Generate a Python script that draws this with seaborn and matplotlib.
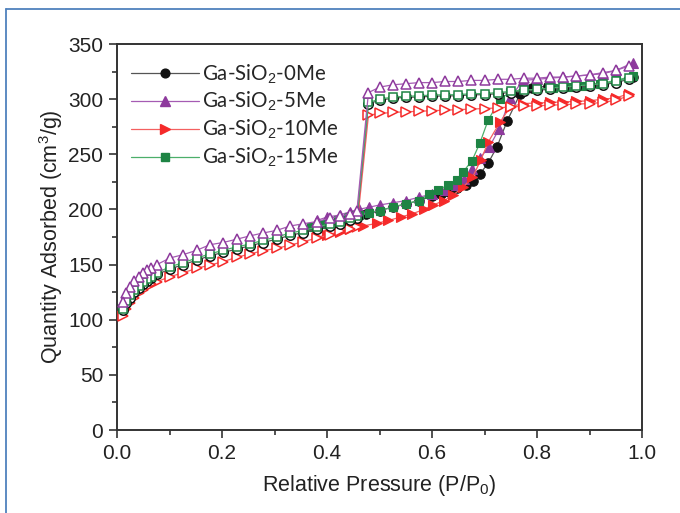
import numpy as np
import pandas as pd
import matplotlib
matplotlib.use("Agg")
import matplotlib.pyplot as plt
from matplotlib.lines import Line2D
import seaborn as sns

# ---------------- data ----------------
samples = ["Ga-SiO$_2$-0Me", "Ga-SiO$_2$-5Me", "Ga-SiO$_2$-10Me", "Ga-SiO$_2$-15Me"]

# desorption branch (open markers), high pressure -> low pressure
des_p_up = [0.975, 0.95, 0.925, 0.9, 0.875, 0.85, 0.825, 0.8, 0.775, 0.75, 0.725,
            0.7, 0.675, 0.65, 0.625, 0.6, 0.575, 0.55, 0.526, 0.501, 0.479]
des_p_low = [0.457, 0.444, 0.425, 0.405, 0.38, 0.355, 0.33, 0.304, 0.278, 0.253,
             0.228, 0.202, 0.177, 0.152, 0.126, 0.101, 0.076, 0.065, 0.057, 0.049,
             0.041, 0.033, 0.025, 0.018, 0.011]

des_0me_up = [318, 315, 313, 312, 311, 310, 309, 308, 307, 306, 305, 304, 304, 303,
              303, 302.5, 302, 301.5, 301, 299, 296]
des_0me_low = [192, 190, 187, 185, 182, 179, 176.6, 173, 170, 167, 164, 161, 158,
               154, 150, 146, 141, 138, 135, 132, 129, 125, 120, 115, 109]

des_5me_up = [330, 326, 324, 322, 321, 320, 320, 319, 319, 318, 318, 317, 317, 316,
              316, 315, 315, 314, 313, 311, 306]
des_5me_low = [199, 196, 194, 192, 189, 187, 185, 181, 178.6, 176, 173, 170, 168,
               163, 159, 156, 150, 147, 145, 142, 139, 135, 130, 124, 116]

des_10me_up = [303, 299, 297, 296, 295.5, 295, 294.5, 294, 293.5, 293, 292, 291.5,
               291, 290.5, 290, 289.5, 289, 288.5, 288, 287, 285.5]
des_10me_low = [184, 182, 180, 177, 174, 170.7, 167.7, 164.7, 162.6, 159.6, 156.6,
                152.6, 149.6, 146.6, 142.6, 139, 134.5, 132, 130, 127, 124, 120,
                115, 110, 103]

des_15me_up = [319, 316, 314, 313, 312, 311, 310, 309, 308, 307, 306, 305, 305, 304,
               304, 303.7, 303, 302.5, 302, 300, 297]
des_15me_low = [194, 192, 189, 186.8, 184, 181, 178.6, 175, 172, 168.6, 166, 163,
                159.6, 156, 151.7, 148, 142.6, 139, 137, 134, 131, 127, 122, 117, 110]

# adsorption branch (filled markers)
ads_0me_p = [0.45, 0.475, 0.50, 0.525, 0.55, 0.575, 0.60, 0.618, 0.632, 0.647, 0.665,
             0.678, 0.691, 0.707, 0.724, 0.743, 0.768, 0.79, 0.821, 0.85, 0.875, 0.90,
             0.925, 0.95, 0.983]
ads_0me_q = [192, 196, 199, 202, 205, 208, 212, 214, 216, 219, 222, 226, 232, 242,
             257, 280, 305, 310, 312, 312, 313, 313, 314, 316, 320]

ads_5me_p = [0.38, 0.40, 0.425, 0.444, 0.46, 0.48, 0.50, 0.525, 0.55, 0.575, 0.60,
             0.625, 0.645, 0.66, 0.676, 0.691, 0.709, 0.728, 0.749, 0.773, 0.80, 0.825,
             0.85, 0.875, 0.90, 0.925, 0.95, 0.983]
ads_5me_q = [190, 193, 195, 198, 200, 202, 204, 206, 208, 211, 214, 218, 222, 228,
             236.6, 246.6, 256.6, 273, 301, 317, 318, 319, 320, 321, 322, 323, 326, 333]

ads_10me_p = [0.38, 0.40, 0.425, 0.444, 0.469, 0.495, 0.517, 0.54, 0.562, 0.585, 0.602,
              0.623, 0.64, 0.659, 0.677, 0.693, 0.707, 0.73, 0.749, 0.773, 0.80, 0.825,
              0.85, 0.875, 0.90, 0.925, 0.95, 0.975]
ads_10me_q = [174.7, 176.8, 179.8, 182, 185, 187.4, 190, 193, 196, 200, 204, 208, 213,
              220, 229, 244.8, 261, 279.5, 293, 296, 296.5, 297, 297.5, 298, 298.5, 300,
              301, 305]

ads_15me_p = [0.37, 0.395, 0.42, 0.44, 0.46, 0.48, 0.50, 0.525, 0.55, 0.575, 0.595,
              0.612, 0.631, 0.647, 0.659, 0.676, 0.691, 0.707, 0.73, 0.749, 0.775, 0.80,
              0.83, 0.86, 0.89, 0.92, 0.95, 0.983]
ads_15me_q = [184, 187, 190, 192, 195, 197, 199, 202, 205, 208, 214, 218, 222, 227,
              234, 244, 260, 281, 300, 306.7, 308, 309, 310, 311, 312, 314, 317, 321]

x_ticks = [0.0, 0.2, 0.4, 0.6, 0.8, 1.0]
y_ticks = [0, 50, 100, 150, 200, 250, 300, 350]

# ---------------- styling ----------------
colors = {samples[0]: "#111111", samples[1]: "#8E3A9D",
          samples[2]: "#F52A2A", samples[3]: "#1E8444"}
line_colors = {samples[0]: "#555555", samples[1]: "#A55BB3",
               samples[2]: "#F46060", samples[3]: "#4CAF6A"}
markers = {samples[0]: "o", samples[1]: "^", samples[2]: ">", samples[3]: "s"}
msize = {samples[0]: 6.8, samples[1]: 7.2, samples[2]: 7.2, samples[3]: 6.3}

ads = {samples[0]: (ads_0me_p, ads_0me_q), samples[1]: (ads_5me_p, ads_5me_q),
       samples[2]: (ads_10me_p, ads_10me_q), samples[3]: (ads_15me_p, ads_15me_q)}
des = {samples[0]: (des_0me_up, des_0me_low), samples[1]: (des_5me_up, des_5me_low),
       samples[2]: (des_10me_up, des_10me_low), samples[3]: (des_15me_up, des_15me_low)}

sns.set_style("ticks")
plt.rcParams["font.family"] = ["Liberation Sans", "DejaVu Sans"]
plt.rcParams["mathtext.fontset"] = "custom"
plt.rcParams["mathtext.rm"] = "Liberation Sans"
plt.rcParams["mathtext.it"] = "Liberation Sans:italic"

fig = plt.figure(figsize=(6.8, 5.13), dpi=100)
ax = fig.add_axes([117 / 680, 1 - 430 / 513, 525 / 680, 386 / 513])

# adsorption (filled) first
for s in samples:
    p, q = ads[s]
    df = pd.DataFrame({"P": p, "Q": q})
    sns.lineplot(data=df, x="P", y="Q", ax=ax, sort=False, estimator=None,
                 color=line_colors[s], lw=0.9, marker=markers[s], markersize=msize[s],
                 markerfacecolor=colors[s], markeredgecolor=colors[s],
                 markeredgewidth=0.8, zorder=2)

# desorption (open) on top
for s in [samples[2], samples[0], samples[3], samples[1]]:
    up, low = des[s]
    df = pd.DataFrame({"P": des_p_up + des_p_low, "Q": up + low})
    sns.lineplot(data=df, x="P", y="Q", ax=ax, sort=False, estimator=None,
                 color=line_colors[s], lw=0.9, marker=markers[s], markersize=msize[s],
                 markerfacecolor="white", markeredgecolor=colors[s],
                 markeredgewidth=1.1, zorder=3)

ax.set_xlim(0, 1.0)
ax.set_ylim(0, 350)
ax.set_xticks(x_ticks)
ax.set_xticklabels([f"{v:.1f}" for v in x_ticks])
ax.set_yticks(y_ticks)
ax.set_xticks([0.1, 0.3, 0.5, 0.7, 0.9], minor=True)
ax.set_yticks([25, 75, 125, 175, 225, 275, 325], minor=True)
ax.tick_params(axis="both", which="major", direction="out", length=6, width=1.2,
               labelsize=15, colors="#333333", labelcolor="#222222", pad=4)
ax.tick_params(axis="both", which="minor", direction="out", length=3.5, width=1.2,
               colors="#333333")
ax.tick_params(top=False, right=False, which="both")
for sp in ax.spines.values():
    sp.set_visible(True)
    sp.set_linewidth(1.4)
    sp.set_color("#333333")

ax.set_xlabel("Relative Pressure (P/P$_0$)", fontsize=15.5, color="#222222", labelpad=7)
ax.set_ylabel("Quantity Adsorbed (cm$^3$/g)", fontsize=15.5, color="#222222", labelpad=2)

# legend
handles = [Line2D([0], [0], color=line_colors[s], lw=0.9, marker=markers[s],
                  markersize=msize[s] - 0.5, markerfacecolor=colors[s],
                  markeredgecolor=colors[s]) for s in samples]
leg = ax.legend(handles, samples, loc="upper left", bbox_to_anchor=(0.0, 0.99),
                frameon=False, handlelength=3.3, handletextpad=0.15,
                labelspacing=0.22, borderaxespad=0.3,
                prop={"family": ["Lato", "DejaVu Sans"], "size": 14.8})

# blue page frame
fig.add_artist(Line2D([5.5 / 680, 5.5 / 680], [0, 1 - 9 / 513], color="#4F81BD", lw=1.3,
                      transform=fig.transFigure))
fig.add_artist(Line2D([5.5 / 680, 1.0], [1 - 9 / 513, 1 - 9 / 513], color="#4F81BD",
                      lw=1.3, transform=fig.transFigure))

fig.savefig("out.png", dpi=100)
